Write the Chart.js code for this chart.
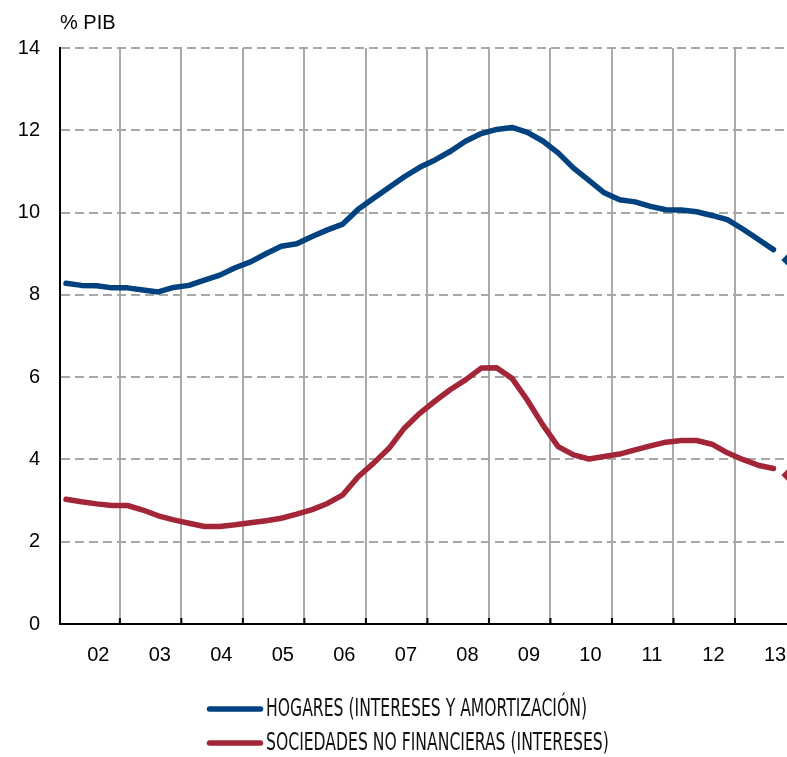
<!DOCTYPE html>
<html>
<head>
<meta charset="utf-8">
<script src="https://cdn.jsdelivr.net/npm/chart.js@4.4.1/dist/chart.umd.min.js"></script>
<style>
    html, body { margin: 0; padding: 0; background: #fff; }
    #wrap { width: 787px; height: 757px; position: relative; }
</style>
</head>
<body>
<div id="wrap"><canvas id="chartCarga"></canvas></div>
<script>
    // trimestral, 2002 T1 .. 2013 T4 (el ultimo punto va con rombo)
    const yearLabels = ['02', '03', '04', '05', '06', '07', '08', '09', '10', '11', '12', '13'];
    const hogares = [
        8.28, 8.23, 8.22, 8.17, 8.17, 8.12, 8.07, 8.18, 8.23, 8.36, 8.48, 8.66,
        8.80, 9.00, 9.18, 9.24, 9.42, 9.58, 9.72, 10.08, 10.35, 10.61, 10.87, 11.10,
        11.28, 11.49, 11.74, 11.92, 12.02, 12.07, 11.95, 11.74, 11.45, 11.08, 10.78, 10.48,
        10.31, 10.26, 10.15, 10.07, 10.06, 10.02, 9.93, 9.83, 9.60, 9.35, 9.10, 8.85
    ];
    const sociedades = [
        3.03, 2.97, 2.92, 2.88, 2.88, 2.77, 2.63, 2.53, 2.45, 2.37, 2.37, 2.41,
        2.46, 2.51, 2.57, 2.67, 2.78, 2.93, 3.14, 3.58, 3.91, 4.27, 4.76, 5.12,
        5.42, 5.70, 5.94, 6.22, 6.23, 5.97, 5.44, 4.84, 4.31, 4.11, 4.01, 4.07,
        4.13, 4.23, 4.33, 4.42, 4.46, 4.46, 4.37, 4.16, 4.00, 3.86, 3.78, 3.62
    ];
    const seriesNames = ['HOGARES (INTERESES Y AMORTIZACIÓN)', 'SOCIEDADES NO FINANCIERAS (INTERESES)'];
    const unitLabel = '% PIB';

    const labelPos = yearLabels.map((_, k) => 2.1 + 4 * k);
    const gridPos = yearLabels.slice(1).map((_, k) => 3.5 + 4 * k);
    const xMin = -0.39, xMax = 46.88;
    const lastIdx = hogares.length - 1;

    const serie = (label, values, color) => ({
        label: label,
        data: values.map((v, i) => ({ x: i, y: v })),
        borderColor: color,
        backgroundColor: color,
        borderWidth: 5.5,
        borderCapStyle: 'round',
        borderJoinStyle: 'round',
        tension: 0,
        pointStyle: 'rectRot',
        pointRadius: c => c.dataIndex === lastIdx ? 7.5 : 0,
        pointBorderWidth: 0,
        segment: {
            borderColor: c => c.p1DataIndex === lastIdx ? 'rgba(0,0,0,0)' : undefined
        },
        clip: false
    });

    const marcasEje = {
        id: 'marcasEje',
        afterDatasetsDraw(chart) {
            const ax = chart.scales.xg;
            const ctx = chart.ctx;
            ctx.save();
            ctx.strokeStyle = '#000';
            ctx.lineWidth = 2;
            gridPos.forEach(v => {
                const px = ax.getPixelForValue(v);
                ctx.beginPath();
                ctx.moveTo(px, chart.chartArea.bottom - 6);
                ctx.lineTo(px, chart.chartArea.bottom);
                ctx.stroke();
            });
            ctx.restore();
        }
    };

    const leyenda = {
        id: 'leyenda',
        afterDraw(chart) {
            const ctx = chart.ctx;
            ctx.save();
            ctx.font = '24px "Liberation Sans Narrow", "DejaVu Sans Condensed", sans-serif';
            const sx = 321 / ctx.measureText(chart.data.datasets[0].label).width;
            chart.data.datasets.forEach((ds, k) => {
                const y = 709 + k * 34;
                ctx.strokeStyle = ds.borderColor;
                ctx.lineWidth = 5.5;
                ctx.lineCap = 'round';
                ctx.beginPath();
                ctx.moveTo(209.5, y);
                ctx.lineTo(260.5, y);
                ctx.stroke();
                ctx.save();
                ctx.translate(266, y);
                ctx.scale(sx, 1);
                ctx.fillStyle = '#111';
                ctx.textBaseline = 'middle';
                ctx.fillText(ds.label, 0, 1);
                ctx.restore();
            });
            ctx.font = '20px "Liberation Sans", Arial, sans-serif';
            ctx.fillStyle = '#000';
            ctx.textBaseline = 'alphabetic';
            ctx.fillText(unitLabel, 60, 29);
            ctx.restore();
        }
    };

    Chart.defaults.font.family = '"Liberation Sans", Arial, sans-serif';
    Chart.defaults.font.size = 20;
    Chart.defaults.color = '#000';

    new Chart(document.getElementById('chartCarga'), {
        type: 'line',
        data: {
            datasets: [
                serie(seriesNames[0], hogares, '#00427f'),
                serie(seriesNames[1], sociedades, '#a32638')
            ]
        },
        options: {
            responsive: true,
            maintainAspectRatio: false,
            animation: false,
            events: [],
            layout: { autoPadding: false, padding: { top: 48, left: 0, right: 0, bottom: 88 } },
            plugins: {
                legend: { display: false },
                tooltip: { enabled: false }
            },
            scales: {
                x: {
                    type: 'linear',
                    position: 'bottom',
                    weight: 1,
                    min: xMin,
                    max: xMax,
                    afterBuildTicks: ax => { ax.ticks = labelPos.map(v => ({ value: v })); },
                    ticks: {
                        callback: (v, i) => yearLabels[i],
                        autoSkip: false,
                        maxRotation: 0,
                        padding: 19
                    },
                    grid: { display: false, drawTicks: false },
                    border: { display: false },
                    afterFit: s => { s.height = 45; s.paddingRight = 0; s.paddingLeft = 0; }
                },
                xg: {
                    type: 'linear',
                    position: 'bottom',
                    weight: 0,
                    min: xMin,
                    max: xMax,
                    afterBuildTicks: ax => { ax.ticks = gridPos.map(v => ({ value: v })); },
                    ticks: { display: false },
                    grid: { color: '#aaaaaa', lineWidth: 2, drawTicks: false },
                    border: { color: '#000', width: 2 },
                    afterFit: s => { s.height = 0; s.paddingRight = 0; s.paddingLeft = 0; }
                },
                y: {
                    min: 0,
                    max: 14,
                    ticks: { stepSize: 2, padding: 20 },
                    grid: { color: '#a8a8a8', lineWidth: 2, drawTicks: false },
                    border: { color: '#000', width: 2, dash: [9, 5] },
                    afterFit: s => { s.width = 60; }
                }
            }
        },
        plugins: [marcasEje, leyenda]
    });
</script>
</body>
</html>
